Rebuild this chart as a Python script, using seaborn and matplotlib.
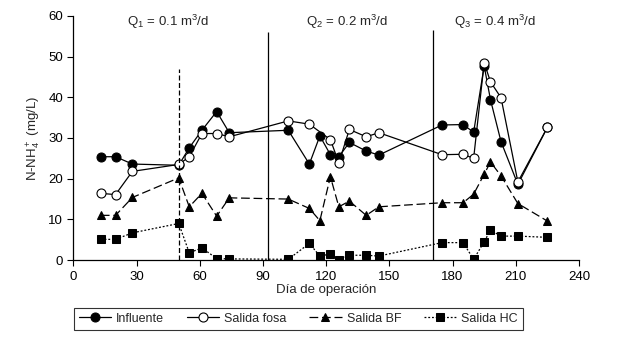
import pandas as pd
import matplotlib
matplotlib.use("Agg")
import matplotlib.pyplot as plt
import seaborn as sns

sns.set_style("ticks")
plt.rcParams['font.family'] = ['Liberation Sans', 'DejaVu Sans']
plt.rcParams['mathtext.fontset'] = 'custom'
plt.rcParams['mathtext.rm'] = 'Liberation Sans'
plt.rcParams['mathtext.it'] = 'Liberation Sans:italic'

# days of measurement and N-NH4+ values (mg/L)
dias = [13, 20, 28, 50, 55, 61, 68, 74, 102, 112, 117, 122, 126, 131, 139, 145,
        175, 185, 190, 195, 198, 203, 211, 225]
influente = [25.4, 25.4, 23.6, 23.3, 27.6, 31.9, 36.5, 31.3, 31.9, 23.6, 30.5, 25.9,
             25.4, 28.9, 26.8, 25.8, 33.2, 33.3, 31.4, 47.7, 39.4, 29.1, 18.6, 32.6]
dias_fosa = [13, 20, 28, 50, 55, 61, 68, 74, 102, 112, 122, 126, 131, 139, 145,
             175, 185, 190, 195, 198, 203, 211, 225]
salida_fosa = [16.4, 16.1, 21.8, 23.5, 25.4, 31.1, 31.1, 30.3, 34.2, 33.4, 29.6, 23.9,
               32.1, 30.3, 31.3, 25.9, 26.0, 25.0, 48.5, 43.8, 39.9, 19.2, 32.6]
salida_bf = [11.0, 11.0, 15.4, 20.2, 13.1, 16.4, 10.8, 15.3, 15.0, 12.7, 9.7, 20.5,
             13.1, 14.5, 11.0, 13.1, 14.1, 14.1, 16.2, 21.1, 24.1, 20.7, 13.9, 9.6]
salida_hc = [5.1, 5.1, 6.7, 9.0, 1.8, 3.0, 0.4, 0.3, 0.2, 4.1, 1.0, 1.5,
             0.0, 1.2, 1.2, 1.0, 4.3, 4.3, 0.2, 4.5, 7.4, 5.9, 5.9, 5.6]

# change of flow (day) and flow labels
cambios = [92.4, 170.6]
caudales = ["Q$_1$ = 0.1 m$^3$/d", "Q$_2$ = 0.2 m$^3$/d", "Q$_3$ = 0.4 m$^3$/d"]
pos_caudal = [45, 130, 200]

fig = plt.figure(figsize=(6.44, 3.45), dpi=100)
ax = fig.add_axes([0.114, 0.246, 0.785, 0.708])

sns.lineplot(x=dias, y=influente, ax=ax, color="black", lw=0.9, marker="o",
             markersize=6.5, markerfacecolor="black", markeredgecolor="black",
             label="Influente")
sns.lineplot(x=dias_fosa, y=salida_fosa, ax=ax, color="black", lw=0.9, marker="o",
             markersize=6.5, markerfacecolor="white", markeredgecolor="black",
             markeredgewidth=0.8, label="Salida fosa")
sns.lineplot(x=dias, y=salida_bf, ax=ax, color="black", lw=0.9, marker="^",
             markersize=5.5, markerfacecolor="black", markeredgecolor="black",
             linestyle=(0, (7, 3)), label="Salida BF")
sns.lineplot(x=dias, y=salida_hc, ax=ax, color="black", lw=0.9, marker="s",
             markersize=6, markerfacecolor="black", markeredgecolor="black",
             linestyle=(0, (1.5, 1.5)), label="Salida HC")

ax.vlines(cambios, 0, [56, 56.5], color="black", lw=0.9)
ax.vlines(50.2, 0, 47, color="black", lw=0.9, linestyles=(0, (4, 2)))

for x, t in zip(pos_caudal, caudales):
    ax.text(x, 58.5, t, ha="center", va="center", fontsize=9.5)

ax.set_xlim(0, 240)
ax.set_ylim(0, 60)
ax.set_xticks(range(0, 241, 30))
ax.set_yticks(range(0, 61, 10))
ax.tick_params(labelsize=9.5, direction="out", length=4, width=0.8, colors="black")
ax.set_xlabel("Día de operación", fontsize=9.5, labelpad=1)
ax.set_ylabel("N-NH$_4^+$ (mg/L)", fontsize=9.5)
sns.despine(ax=ax)
for s in ["left", "bottom"]:
    ax.spines[s].set_linewidth(0.9)
    ax.spines[s].set_color("black")

leg = ax.legend(loc="center", bbox_to_anchor=(0.445, -0.24), ncol=4, frameon=True,
                fancybox=False, edgecolor="black", fontsize=9, handlelength=2.6,
                handletextpad=0.4, columnspacing=1.8, borderpad=0.4)
leg.get_frame().set_linewidth(0.8)

fig.savefig("out.png", dpi=100)
